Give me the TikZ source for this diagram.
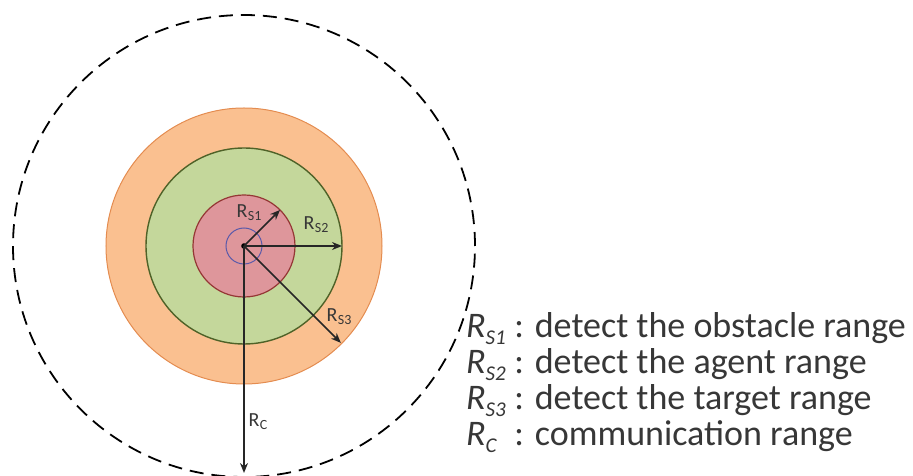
\documentclass[tikz,border=0pt]{standalone}
\usepackage{fontspec}
\setmainfont{Carlito}
\usetikzlibrary{arrows.meta,calc,positioning}
\definecolor{RangeOrange}{RGB}{250,192,144}
\definecolor{OrangeLine}{RGB}{228,140,80}
\definecolor{RangeGreen}{RGB}{196,215,155}
\definecolor{GreenLine}{RGB}{79,98,40}
\definecolor{RangePink}{RGB}{222,150,155}
\definecolor{PinkLine}{RGB}{149,55,53}
\definecolor{CoreBlue}{RGB}{90,90,170}
\definecolor{TextGray}{RGB}{55,55,55}
\newcommand{\rsub}[1]{R\kern.5pt\raisebox{-3pt}{\fontsize{14}{14}\selectfont #1}}
\newcommand{\rleg}[1]{\makebox[40pt][l]{\textit{R}\raisebox{-7pt}{\fontsize{21}{21}\selectfont\itshape #1}}}
\begin{document}
\begin{tikzpicture}[x=1pt,y=1pt,
  arr/.style={-{Stealth[length=10pt,width=8pt]},line width=1.6pt,black!85},
  lbl/.style={font=\fontsize{20}{20}\selectfont,text=TextGray,inner sep=0pt},
  legend/.style={anchor=base west,font=\fontsize{36}{36}\selectfont,text=TextGray,inner sep=0pt}]
\useasboundingbox (-244,-230) rectangle (669,246);
\draw[line width=1.8pt,dash pattern=on 14pt off 8pt] (0,0) circle (231);
\draw[OrangeLine,fill=RangeOrange,line width=1pt] (0,0) circle (138);
\draw[GreenLine,fill=RangeGreen,line width=1.4pt] (0,0) circle (98);
\draw[PinkLine,fill=RangePink,line width=1.2pt] (0,0) circle (51);
\draw[CoreBlue,line width=1pt] (0,0) circle (18);
\coordinate (c) at (0,0);
\fill (c) circle (2.8);
\coordinate (s1) at (45:51);
\coordinate (s2) at (98,0);
\coordinate (s3) at (-45:137);
\coordinate (rc) at (0,-227);
\foreach \e in {s1,s2,s3,rc}{\draw[arr] (c)--(\e);}
\node[lbl] (l1) at (5,33) {\rsub{S1}};
\node[lbl] (l2) at (72,21) {\rsub{S2}};
\node[lbl] (l3) at (95,-71) {\rsub{S3}};
\node[lbl] (lc) at (14,-176) {\rsub{C}};
% legend
\node[legend] (g1) at (222,-92) {\rleg{S1} : detect the obstacle range};
\node[legend] (g2) at (222,-128) {\rleg{S2} : detect the agent range};
\node[legend] (g3) at (222,-164) {\rleg{S3} : detect the target range};
\node[legend] (g4) at (222,-200) {\rleg{C} : communication range};
\end{tikzpicture}
\end{document}
